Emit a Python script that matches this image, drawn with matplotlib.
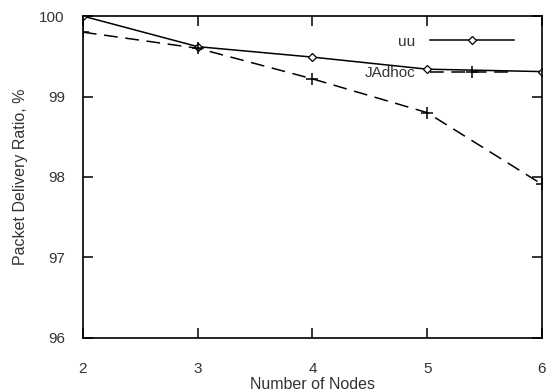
import matplotlib.pyplot as plt

plt.rcParams['font.family'] = ['Liberation Sans', 'DejaVu Sans']

# data
nodes = [2, 3, 4, 5, 6]
uu = [100.0, 99.62, 99.49, 99.34, 99.31]
jadhoc = [99.80, 99.60, 99.22, 98.80, 97.91]

x_ticks = [2, 3, 4, 5, 6]
y_ticks = [96, 97, 98, 99, 100]

fig = plt.figure(figsize=(5.49, 3.92), dpi=100)
ax = fig.add_axes([0.151, 0.138, 0.836, 0.821])

ax.plot(nodes, uu, color='black', lw=1.1, marker='D', ms=4.5,
        mfc='white', mec='black', mew=0.9, label='uu')
ax.plot(nodes, jadhoc, color='black', lw=1.1, ls=(0, (9, 5)), marker='+',
        ms=9, mew=1.1, label='JAdhoc')

ax.set_xlim(2, 6)
ax.set_ylim(96, 100)
ax.set_xticks(x_ticks)
ax.set_yticks(y_ticks)

txt = '#333333'
ax.tick_params(direction='in', length=7, width=1.1, top=True, right=True,
               labelsize=11, labelcolor=txt)
ax.tick_params(axis='x', pad=17)
ax.tick_params(axis='y', pad=13)
for s in ax.spines.values():
    s.set_linewidth(1.2)

ax.set_xlabel('Number of Nodes', fontsize=11.5, color=txt, labelpad=1)
ax.set_ylabel('Packet Delivery Ratio, %', fontsize=11.5, color=txt, labelpad=8)

leg = ax.legend(loc='upper right', bbox_to_anchor=(0.97, 0.985), frameon=False,
                markerfirst=False, fontsize=11, handlelength=5.5,
                labelspacing=1.15, handletextpad=1.0)
for t in leg.get_texts():
    t.set_color(txt)

fig.savefig('out.png', dpi=100)
